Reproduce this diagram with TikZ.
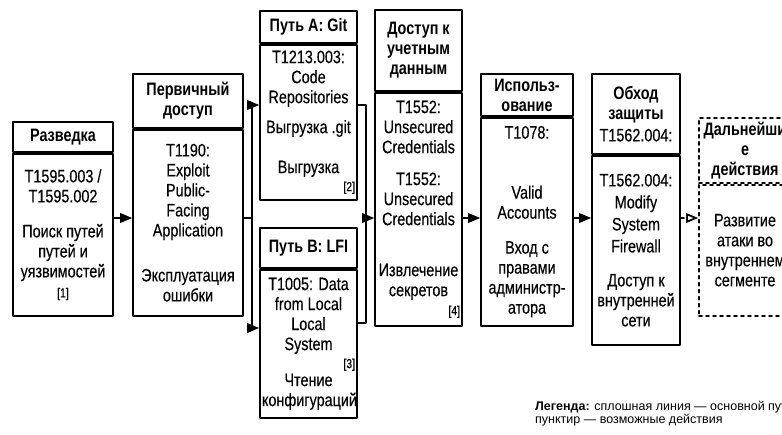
\documentclass[tikz,border=0pt]{standalone}
\usepackage{fontspec}
\setmainfont{Liberation Sans}[FakeStretch=0.8,UprightFeatures={FakeBold=0.3}]
\newfontfamily\legfont{Liberation Sans}
\usetikzlibrary{arrows}
\newcommand{\bdsize}{\fontsize{18}{20}\selectfont}
\newcommand{\refsize}{\fontsize{13}{14}\selectfont}
\newcommand{\legsize}{\legfont\fontsize{12.5}{13}\selectfont}
\newcommand{\refno}[1]{\makebox[\hsize][r]{\refsize[#1]}}
\begin{document}
\begin{tikzpicture}[line cap=round,line join=round,>=triangle 45,x=1pt,y=-1pt,
  box/.style={draw,line width=1.8pt,align=flush center,anchor=north,inner sep=2pt},
  hd/.style={box,font=\bfseries\bdsize},
  bd/.style={box,font=\bdsize},
  link/.style={line width=1.8pt}]
\useasboundingbox (0,0) rectangle (782,434);
\clip (0,0) rectangle (782,434);
\node[hd,text width=96pt,minimum height=30pt] (razv) at (63,121) {Разведка};
\node[bd,text width=96pt,minimum height=162pt] (razvb) at (razv.south) {T1595.003 /\\T1595.002\\[15pt]Поиск путей\\путей и\\уязвимостей\\{\refsize [1]}};
\node[hd,text width=106pt,minimum height=54pt] (perv) at (188,73) {Первичный\\доступ};
\node[bd,text width=106pt,minimum height=186pt] (pervb) at (perv.south) {T1190:\\Exploit\\Public-\\Facing\\Application\\[25pt]Эксплуатация\\ошибки};
\node[hd,text width=93pt,minimum height=32pt] (git) at (308.5,10) {Путь A: Git};
\node[bd,text width=93pt,minimum height=155pt] (gitb) at (git.south) {T1213.003:\\Code\\Repositories\\[10pt]Выгрузка .git\\[20pt]Выгрузка\\[-2pt]\refno{2}};
\node[hd,text width=93pt,minimum height=40pt] (lfi) at (308.5,227) {Путь B: LFI};
\node[bd,text width=93pt,minimum height=148pt] (lfib) at (lfi.south) {T1005: Data\\from Local\\Local\\System\\[-2pt]\refno{3}\\[-2pt]Чтение\\конфигураций};
\node[hd,text width=83pt,minimum height=81pt] (dost) at (418.5,9) {Доступ к\\учетным\\данным};
\node[bd,text width=83pt,minimum height=233pt] (dostb) at (dost.south) {T1552:\\Unsecured\\Credentials\\[12pt]T1552:\\Unsecured\\Credentials\\[31pt]Извлечение\\секретов\\[-1pt]\refno{4}};
\node[hd,text width=88pt,minimum height=42pt] (isp) at (527,73) {Использ-\\ование};
\node[bd,text width=88pt,minimum height=208pt] (ispb) at (isp.south) {T1078:\\[40pt]Valid\\Accounts\\[15pt]Вход с\\правами\\администр-\\атора};
\node[hd,text width=84pt,minimum height=80pt] (obh) at (636,73) {Обход\\защиты\\[2pt]{\mdseries T1562.004:}};
\node[bd,text width=84pt,minimum height=189pt] (obhb) at (obh.south) {T1562.004:\\[2pt]Modify\\[2pt]System\\[2pt]Firewall\\[14pt]Доступ к\\внутренней\\сети};
\node[hd,dashed,dash pattern=on 3pt off 4pt,text width=88pt,minimum height=65pt] (dal) at (745,117) {Дальнейши\\е\\действия};
\node[bd,dashed,dash pattern=on 3pt off 4pt,text width=88pt,minimum height=131pt] (dalb) at (dal.south) {Развитие\\атаки во\\внутреннем\\сегменте};
\coordinate (mid) at (0,218);
\coordinate (fork) at (252,218);
\coordinate (fa) at (252,105);
\coordinate (fb) at (252,328);
\coordinate (ja) at (366,105);
\coordinate (jb) at (366,323);
\draw[link,->] (razvb.east |- mid) -- (pervb.west |- mid);
\draw[link] (pervb.east |- mid) -- (fork);
\draw[link,->] (fork) -- (fa) -- (fa -| gitb.west);
\draw[link,->] (fork) -- (fb) -- (fb -| lfib.west);
\draw[link] (ja -| gitb.east) -- (ja) -- (jb) -- (jb -| lfib.east);
\draw[link,->] (ja |- mid) -- (dostb.west |- mid);
\draw[link,->] (dostb.east |- mid) -- (ispb.west |- mid);
\draw[link,->] (ispb.east |- mid) -- (obhb.west |- mid);
\draw[link,dash pattern=on 3pt off 4pt,-open triangle 45] (obhb.east |- mid) -- (dalb.west |- mid);
\node[anchor=west,align=left,font=\legsize,inner sep=0pt] (leg) at (535,414) {\textbf{Легенда:} сплошная линия — основной путь\\пунктир — возможные действия};
\end{tikzpicture}
\end{document}
